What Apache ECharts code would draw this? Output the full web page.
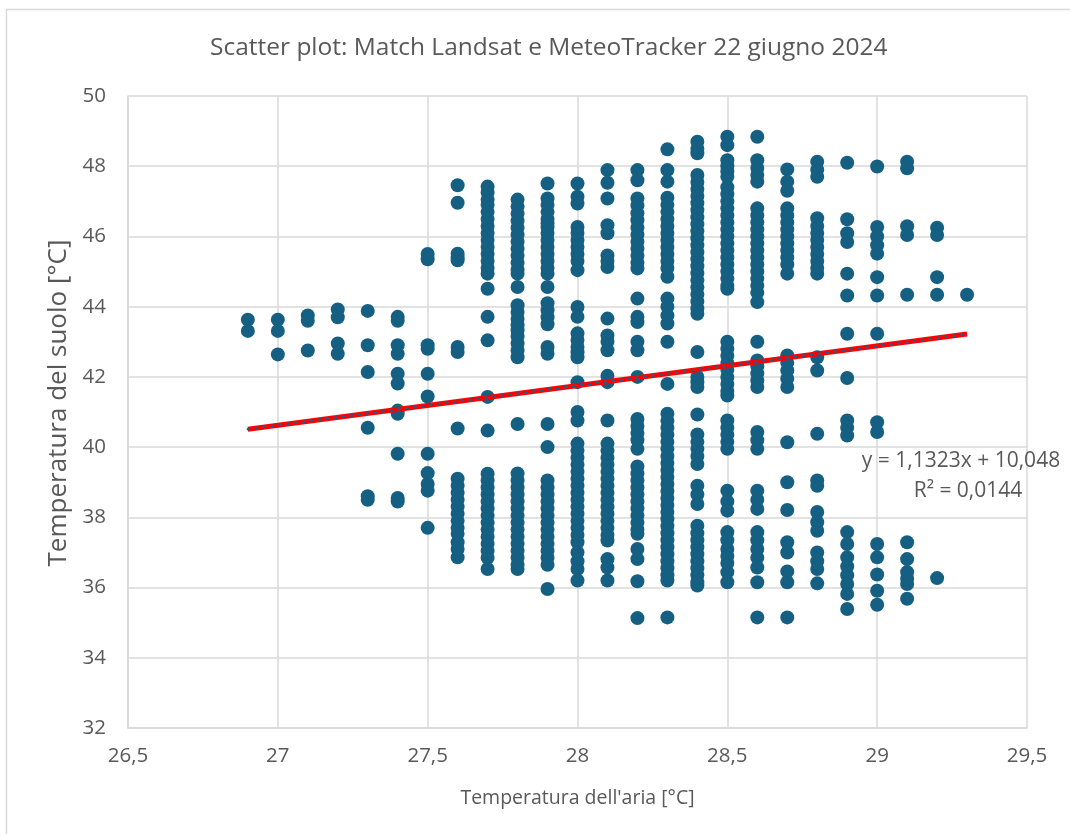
<!DOCTYPE html>
<html>
<head>
<meta charset="utf-8">
<title>Scatter plot Landsat MeteoTracker</title>
<script src="https://cdn.jsdelivr.net/npm/echarts@6/dist/echarts.min.js"></script>
<style>
  html, body { margin: 0; padding: 0; background: #fff; }
  #chart { width: 1070px; height: 834px; }
</style>
</head>
<body>
<div id="chart"></div>
<script>
// temperatura del suolo per ogni colonna di temperatura dell'aria
const col269 = [43.63, 43.31]
const col270 = [43.63, 43.31, 42.64]
const col271 = [43.75, 43.6, 42.75]
const col272 = [43.92, 43.7, 42.95, 42.66]
const col273 = [43.88, 42.9, 42.14, 40.55, 38.6, 38.5]
const col274 = [43.71, 43.6, 42.9, 42.66, 42.09, 41.81, 41.04, 40.95, 39.81, 38.55, 38.45]
const col275 = [45.5, 45.35, 42.9, 42.8, 42.09, 41.44, 39.81, 39.26, 38.95, 38.76, 37.7]
const col276 = [47.46, 46.96, 45.51, 45.4, 45.32, 42.85, 42.71, 40.53,
  39.1, 38.9, 38.7, 38.5, 38.3, 38.1, 37.9, 37.7, 37.53, 37.29, 37.1, 36.86]
const col277 = [47.42, 47.25, 47.05, 46.9, 46.7, 46.5, 46.3, 46.1, 45.9, 45.7, 45.5, 45.3, 45.1, 44.94,
  44.51, 43.71, 43.04, 41.43, 40.47,
  39.24, 39.05, 38.85, 38.65, 38.45, 38.25, 38.05, 37.85, 37.65, 37.45, 37.25, 37.05, 36.85, 36.53]
const col278 = [47.05, 46.85, 46.65, 46.45, 46.25, 46.05, 45.85, 45.65, 45.45, 45.25, 45.05, 44.94,
  44.56, 44.04, 43.85, 43.65, 43.47, 43.33, 43.15, 42.95, 42.75, 42.56, 40.66,
  39.25, 39.05, 38.85, 38.65, 38.45, 38.25, 38.05, 37.85, 37.65, 37.45, 37.25, 37.05, 36.85, 36.65, 36.53]
const col279 = [47.51, 47.08, 46.9, 46.7, 46.5, 46.37, 46.27, 46.1, 45.9, 45.7, 45.5, 45.3, 45.1, 44.94,
  44.56, 44.1, 43.9, 43.7, 43.5, 42.85, 42.66, 40.66, 40.0,
  39.05, 38.85, 38.65, 38.45, 38.25, 38.05, 37.85, 37.65, 37.45, 37.25, 37.05, 36.85, 36.65, 35.96]
const col280 = [47.51, 47.13, 46.94, 46.27, 46.1, 45.9, 45.7, 45.5, 45.3, 45.04,
  43.99, 43.71, 43.24, 43.05, 42.85, 42.7, 42.56, 41.85, 41.0, 40.76,
  40.1, 39.9, 39.7, 39.5, 39.3, 39.1, 38.9, 38.7, 38.5, 38.3, 38.1, 37.9, 37.7, 37.5, 37.29,
  37.0, 36.75, 36.53, 36.2]
const col281 = [47.89, 47.53, 47.08, 46.32, 46.09, 45.46, 45.3, 45.13, 43.66, 43.18, 43.0, 42.76,
  42.03, 41.85, 40.76,
  40.1, 39.9, 39.7, 39.5, 39.3, 39.1, 38.9, 38.7, 38.5, 38.3, 38.1, 37.9, 37.7, 37.5, 37.34,
  36.81, 36.57, 36.2]
const col282 = [47.89, 47.6, 47.08, 46.88, 46.66, 46.46, 46.25, 46.05, 45.85, 45.65, 45.45, 45.25, 45.09,
  44.23, 43.71, 43.56, 43.0, 42.76, 42.0,
  40.8, 40.6, 40.4, 40.2, 39.95,
  39.45, 39.25, 39.05, 38.85, 38.65, 38.45, 38.25, 38.05, 37.85, 37.65, 37.53,
  37.1, 36.81, 36.18, 35.13]
const col283 = [48.48, 47.89, 47.56,
  47.1, 46.9, 46.7, 46.5, 46.3, 46.1, 45.9, 45.7, 45.5, 45.3, 45.1, 44.85,
  44.23, 44.0, 43.75, 43.52, 43.0, 41.8,
  40.95, 40.75, 40.55, 40.35, 40.15, 39.95, 39.75, 39.55, 39.35, 39.15, 38.95, 38.75, 38.55,
  38.35, 38.15, 37.95, 37.75, 37.55, 37.35, 37.15, 36.95, 36.75, 36.55, 36.35, 36.2, 35.15]
const col284 = [48.7, 48.5, 48.37,
  47.75, 47.55, 47.35, 47.15, 46.95, 46.75, 46.55, 46.35, 46.15, 45.95, 45.75, 45.55, 45.35,
  45.15, 44.95, 44.75, 44.55, 44.35, 44.15, 43.95, 43.8,
  42.71, 42.0, 41.85, 41.71, 40.93, 40.36, 40.15, 39.95, 39.75, 39.52, 38.9, 38.65, 38.38,
  37.76, 37.55, 37.35, 37.15, 36.95, 36.75, 36.55, 36.35, 36.15, 36.06]
const col285 = [48.84, 48.6, 48.17, 48.0, 47.85, 47.7,
  47.4, 47.2, 47.0, 46.8, 46.6, 46.4, 46.2, 46.0, 45.8, 45.6, 45.4, 45.2, 45.0, 44.8, 44.6, 44.51,
  43.0, 42.8, 42.6, 42.4, 42.2, 42.0, 41.8, 41.6, 41.47,
  40.76, 40.55, 40.35, 40.15, 39.95, 38.76, 38.45, 38.19,
  37.58, 37.35, 37.1, 36.9, 36.7, 36.44, 36.15]
const col286 = [48.84, 48.17, 47.95, 47.75, 47.56,
  46.8, 46.6, 46.4, 46.2, 46.0, 45.8, 45.6, 45.4, 45.2, 45.0, 44.8, 44.6, 44.4, 44.13,
  43.0, 42.47, 42.3, 42.1, 41.9, 41.71, 40.43, 40.2, 39.95, 38.76, 38.5, 38.24,
  37.58, 37.35, 37.1, 36.85, 36.57, 36.15, 35.15]
const col287 = [47.91, 47.56, 47.3,
  46.8, 46.6, 46.4, 46.2, 46.0, 45.8, 45.6, 45.4, 45.2, 44.94,
  42.61, 42.4, 42.18, 41.95, 41.71, 40.14, 39.0, 38.21, 37.29, 37.0, 36.46, 36.15, 35.15]
const col288 = [48.13, 47.9, 47.7,
  46.52, 46.3, 46.1, 45.9, 45.7, 45.5, 45.3, 45.1, 44.94,
  42.56, 42.18, 40.38, 39.05, 38.9, 38.15, 37.86, 37.62, 37.0, 36.75, 36.53, 36.12]
const col289 = [48.1, 46.49, 46.09, 45.84, 44.94, 44.32, 43.23, 41.97, 40.76, 40.55, 40.33,
  37.58, 37.24, 36.86, 36.6, 36.35, 36.1, 35.82, 35.39]
const col290 = [47.99, 46.27, 46.0, 45.75, 45.51, 44.84, 44.32, 43.23, 40.71, 40.43,
  37.24, 36.86, 36.37, 35.91, 35.51]
const col291 = [48.13, 47.94, 46.29, 46.04, 44.34, 37.29, 36.81, 36.44, 36.25, 36.1, 35.68]
const col292 = [46.25, 46.04, 44.84, 44.34, 36.27]
const col293 = [44.34]

const airTemps = [26.9, 27.0, 27.1, 27.2, 27.3, 27.4, 27.5, 27.6, 27.7, 27.8, 27.9, 28.0,
  28.1, 28.2, 28.3, 28.4, 28.5, 28.6, 28.7, 28.8, 28.9, 29.0, 29.1, 29.2, 29.3]
const soilCols = [col269, col270, col271, col272, col273, col274, col275, col276, col277,
  col278, col279, col280, col281, col282, col283, col284, col285, col286, col287, col288,
  col289, col290, col291, col292, col293]

// linea di tendenza (estremi)
const trendX = [26.9, 29.3]
const trendY = [40.51, 43.22]
const eqText = 'y = 1,1323x + 10,048'
const r2Text = 'R² = 0,0144'

let points = []
for (let i in airTemps) {
  for (let v of soilCols[i]) {
    points.push([airTemps[i], v])
  }
}
let trend = trendX.map((x, i) => [x, trendY[i]])

const textColor = '#595959'
const gridColor = '#d9d9d9'
const font = 'Open Sans'
const comma = (v) => String(v).replace('.', ',')

let myChart = echarts.init(document.getElementById('chart'))
myChart.setOption({
  animation: false,
  backgroundColor: '#fff',
  textStyle: { fontFamily: font },
  title: {
    text: 'Scatter plot: Match Landsat e MeteoTracker 22 giugno 2024',
    left: 205,
    top: 31,
    textStyle: { color: textColor, fontSize: 24.5, fontWeight: 'normal', fontFamily: font }
  },
  grid: { left: 128, top: 96, right: 43, bottom: 106 },
  xAxis: {
    type: 'value',
    min: 26.5,
    max: 29.5,
    interval: 0.5,
    name: "Temperatura dell'aria [°C]",
    nameLocation: 'middle',
    nameGap: 60,
    nameTextStyle: { color: textColor, fontSize: 19.5, fontFamily: font },
    axisLabel: { color: textColor, fontSize: 20.5, margin: 18, formatter: comma },
    axisLine: { show: true, lineStyle: { color: gridColor, width: 1.5 } },
    axisTick: { show: false },
    splitLine: { lineStyle: { color: gridColor, width: 1.5 } }
  },
  yAxis: {
    type: 'value',
    min: 32,
    max: 50,
    interval: 2,
    name: 'Temperatura del suolo [°C]',
    nameLocation: 'middle',
    nameGap: 52,
    nameTextStyle: { color: textColor, fontSize: 26, fontFamily: font, padding: [0, 0, 0, 18] },
    axisLabel: { color: textColor, fontSize: 20.5, margin: 22, formatter: comma },
    axisLine: { show: true, lineStyle: { color: gridColor, width: 1.5 } },
    axisTick: { show: false },
    splitLine: { lineStyle: { color: gridColor, width: 1.5 } }
  },
  graphic: [
    {
      type: 'rect',
      shape: { x: 6.5, y: 9.5, width: 1200, height: 1000 },
      style: { fill: 'none', stroke: gridColor, lineWidth: 1.5 },
      silent: true
    },
    {
      type: 'text',
      x: 961,
      y: 461,
      z: 10,
      style: { text: eqText, fill: textColor, font: '21px "Open Sans"', align: 'center', verticalAlign: 'middle' }
    },
    {
      type: 'text',
      x: 968,
      y: 491,
      z: 10,
      style: { text: r2Text, fill: textColor, font: '21px "Open Sans"', align: 'center', verticalAlign: 'middle' }
    }
  ],
  series: [
    {
      type: 'scatter',
      data: points,
      symbolSize: 14,
      itemStyle: { color: '#156082', opacity: 1 }
    },
    {
      type: 'line',
      data: trend,
      symbol: 'none',
      lineStyle: { color: '#ff0000', width: 5 },
      z: 3
    },
    {
      type: 'line',
      data: trend,
      symbol: 'none',
      lineStyle: { color: '#1c5f8a', width: 2.5, type: [1, 7], cap: 'round' },
      z: 4
    }
  ]
})
</script>
</body>
</html>
